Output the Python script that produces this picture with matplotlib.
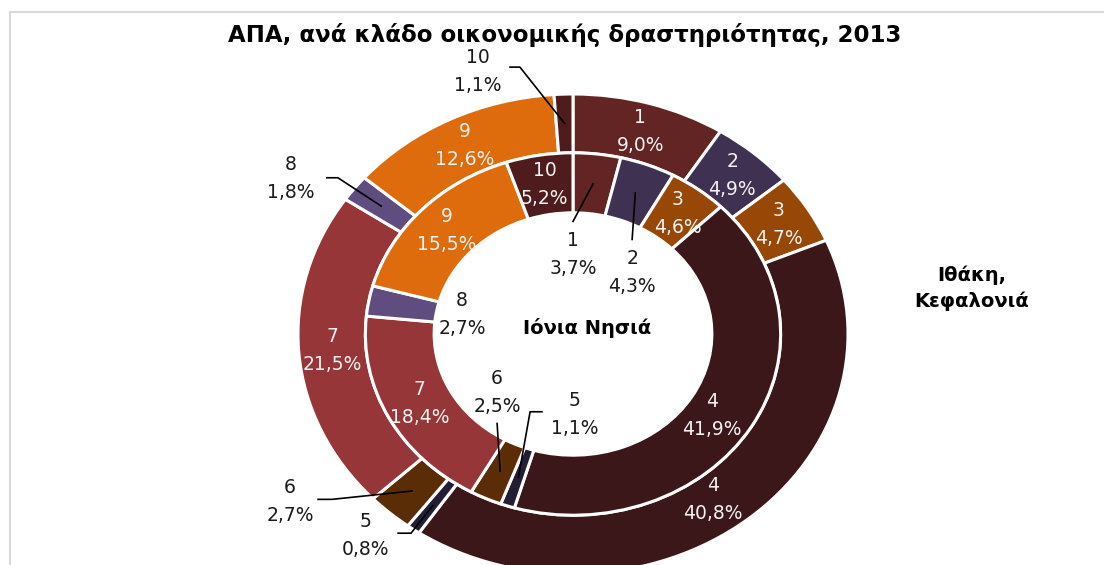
import matplotlib.pyplot as plt
from matplotlib.lines import Line2D
import numpy as np

# sectors 1..10, share of GVA (%)
sectors = ['1', '2', '3', '4', '5', '6', '7', '8', '9', '10']
ionia = [3.7, 4.3, 4.6, 41.9, 1.1, 2.5, 18.4, 2.7, 15.5, 5.2]
kefalonia = [9.0, 4.9, 4.7, 40.8, 0.8, 2.7, 21.5, 1.8, 12.6, 1.1]
colors = ['#632523', '#3F3151', '#974806', '#3C1719', '#231E33',
          '#5A2D06', '#973638', '#604D7F', '#DE6C0C', '#4F1C1D']

title = 'ΑΠΑ, ανά κλάδο οικονομικής δραστηριότητας, 2013'

# labels that sit outside their slice: text centre, leader start (+ optional elbow)
outside = {
    ('in', 0): ((0.0, 0.332), [(0.0, 0.469)]),
    ('in', 1): ((0.215, 0.257), [(0.215, 0.394)]),
    ('in', 4): ((0.007, -0.336), [(-0.113, -0.324), (-0.156, -0.324)]),
    ('in', 5): ((-0.276, -0.245), [(-0.276, -0.373)]),
    ('in', 7): ((-0.404, 0.083), []),
    ('out', 4): ((-0.756, -0.838), [(-0.636, -0.830), (-0.589, -0.830)]),
    ('out', 5): ((-1.029, -0.697), [(-0.927, -0.689), (-0.876, -0.689)]),
    ('out', 7): ((-1.025, 0.647), [(-0.895, 0.651), (-0.855, 0.651)]),
    ('out', 9): ((-0.345, 1.095), [(-0.229, 1.112), (-0.193, 1.112)]),
}

W, H = 1104, 565
cx, cy = 573, 334        # pie centre in pixels (from top-left)
sx, sy = 275, 240        # pixels per unit radius (chart is stretched sideways)

fig = plt.figure(figsize=(W / 100, H / 100), dpi=100)
ax = fig.add_axes([0, 0, 1, 1])

r_out, r_mid, r_in = 1.0, 0.755, 0.505
wp = dict(edgecolor='white', linewidth=2.2)
w_out, _ = ax.pie(kefalonia, radius=r_out, colors=colors, startangle=90,
                  counterclock=False, wedgeprops=dict(width=r_out - r_mid, **wp))
w_in, _ = ax.pie(ionia, radius=r_mid, colors=colors, startangle=90,
                 counterclock=False, wedgeprops=dict(width=r_mid - r_in, **wp))

ax.set_aspect('auto')
ax.set_xlim(-cx / sx, (W - cx) / sx)
ax.set_ylim(-(H - cy) / sy, cy / sy)
ax.axis('off')


def fmt(s, v):
    return s + '\n' + ('%.1f' % v).replace('.', ',') + '%'


for ring, wedges, vals, rmid in [('out', w_out, kefalonia, (r_out + r_mid) / 2),
                                 ('in', w_in, ionia, (r_mid + r_in) / 2)]:
    for i, w in enumerate(wedges):
        a = np.deg2rad((w.theta1 + w.theta2) / 2)
        px, py = rmid * np.cos(a), rmid * np.sin(a)
        txt = fmt(sectors[i], vals[i])
        if (ring, i) in outside:
            (tx, ty), pts = outside[(ring, i)]
            ax.text(tx, ty, txt, ha='center', va='center', fontsize=13.5,
                    color='#1a1a1a', linespacing=1.6)
            if pts:
                xs = [p[0] for p in pts] + [px]
                ys = [p[1] for p in pts] + [py]
                ax.plot(xs, ys, color='black', lw=1.2)
        else:
            if vals[i] > 30:
                # Excel pulls the big slice's label a little toward the centre line
                a -= np.deg2rad(3)
                px, py = (rmid - 0.02) * np.cos(a), (rmid - 0.02) * np.sin(a)
            ax.text(px, py, txt, ha='center', va='center', fontsize=13.5,
                    color='#f2f2f2', linespacing=1.6)

ax.text((587 - cx) / sx, (cy - 328) / sy, 'Ιόνια Νησιά', ha='center', va='center',
        fontsize=14, fontweight='bold')
fig.text(972 / W, 1 - 288 / H, 'Ιθάκη,\nΚεφαλονιά', ha='center', va='center',
         fontsize=14, fontweight='bold', linespacing=1.45)
fig.text(565 / W, 1 - 35 / H, title, ha='center', va='center',
         fontsize=16.5, fontweight='bold')

# chart frame (only top and left edges visible in the crop)
fig.add_artist(Line2D([10 / W, 1], [1 - 12 / H, 1 - 12 / H], color='#D9D9D9', lw=1.5))
fig.add_artist(Line2D([10 / W, 10 / W], [0, 1 - 12 / H], color='#D9D9D9', lw=1.5))

fig.savefig('out.png', dpi=100)
